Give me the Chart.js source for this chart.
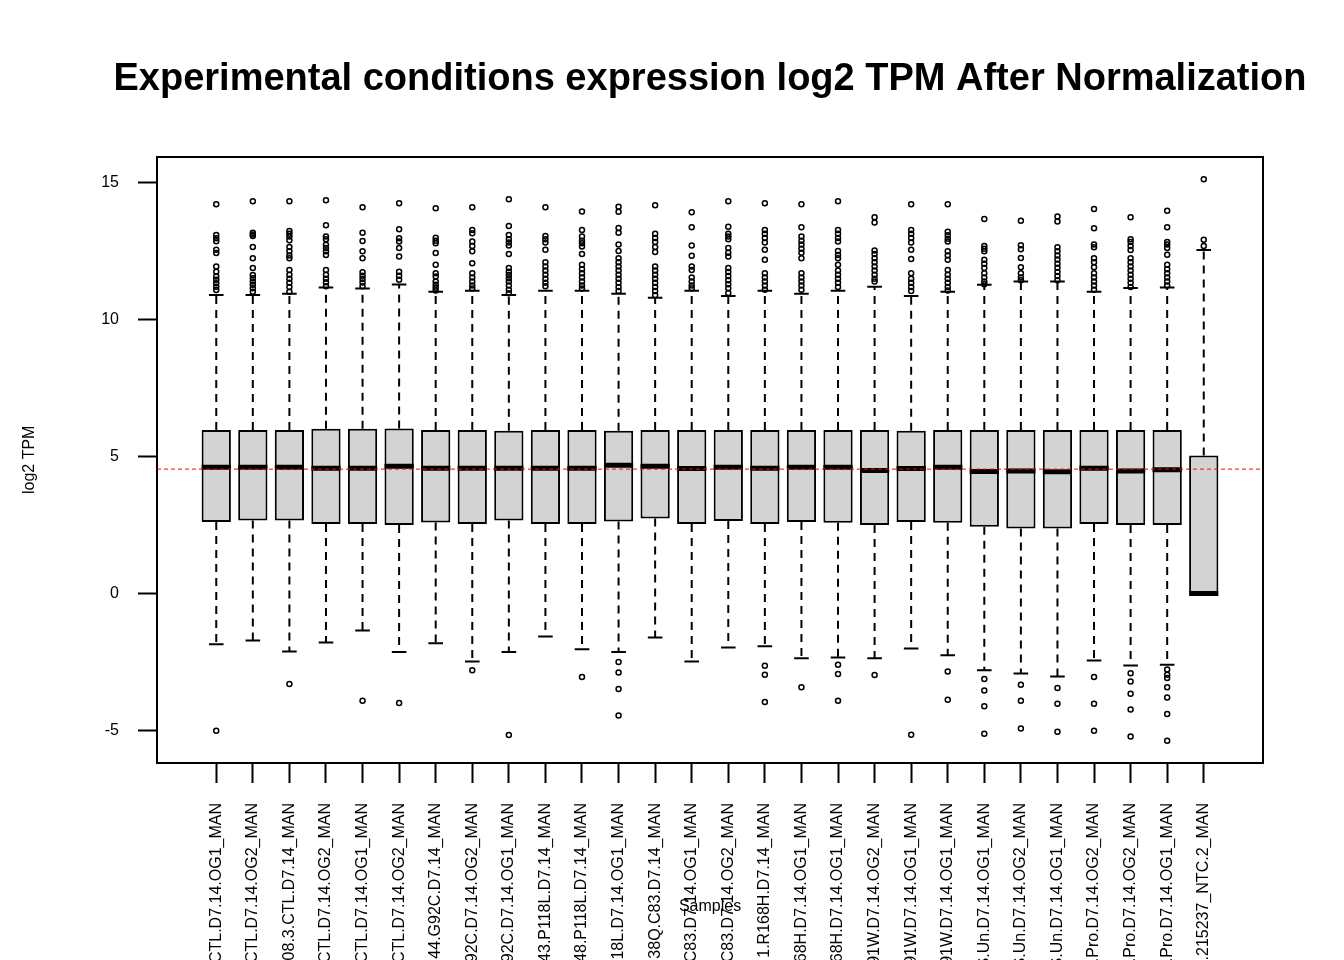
<!DOCTYPE html>
<html>
<head>
<meta charset="utf-8">
<script src="https://cdn.jsdelivr.net/npm/chart.js@4"></script>
<style>
html,body{margin:0;padding:0;background:#fff;overflow:hidden}
#wrap{width:1344px;height:960px;position:relative}
</style>
</head>
<body>
<div id="wrap"><canvas id="c"></canvas></div>
<script>
// ---------------- data ----------------
const sampleLabels = [
  "CTL.D7.14.OG1_MAN", "CTL.D7.14.OG2_MAN", "08.3.CTL.D7.14_MAN", "CTL.D7.14.OG2_MAN",
  "CTL.D7.14.OG1_MAN", "CTL.D7.14.OG2_MAN", "44.G92C.D7.14_MAN", "92C.D7.14.OG2_MAN",
  "92C.D7.14.OG1_MAN", "43.P118L.D7.14_MAN", "48.P118L.D7.14_MAN", "18L.D7.14.OG1_MAN",
  "38Q.C83.D7.14_MAN", "C83.D7.14.OG1_MAN", "C83.D7.14.OG2_MAN", "1.R168H.D7.14_MAN",
  "68H.D7.14.OG1_MAN", "68H.D7.14.OG1_MAN", "91W.D7.14.OG2_MAN", "91W.D7.14.OG1_MAN",
  "91W.D7.14.OG1_MAN", "S.Un.D7.14.OG1_MAN", "S.Un.D7.14.OG2_MAN", "S.Un.D7.14.OG1_MAN",
  ".Pro.D7.14.OG2_MAN", ".Pro.D7.14.OG2_MAN", ".Pro.D7.14.OG1_MAN", ".215237_NTC.2_MAN"
];

const q1 = [2.61, 2.66, 2.66, 2.54, 2.54, 2.50, 2.59, 2.54, 2.66, 2.54, 2.54, 2.63, 2.74, 2.54,
            2.65, 2.54, 2.61, 2.58, 2.50, 2.61, 2.58, 2.44, 2.37, 2.37, 2.54, 2.50, 2.50, 0.00];
const medians = [4.61, 4.61, 4.61, 4.57, 4.57, 4.64, 4.57, 4.57, 4.57, 4.57, 4.57, 4.68, 4.64, 4.56,
                 4.61, 4.57, 4.61, 4.61, 4.49, 4.56, 4.61, 4.45, 4.47, 4.44, 4.57, 4.47, 4.52, 0.00];
const q3 = [5.97, 5.97, 5.97, 6.01, 6.01, 6.02, 5.97, 5.97, 5.94, 5.97, 5.97, 5.94, 5.97, 5.97,
            5.97, 5.97, 5.97, 5.97, 5.97, 5.94, 5.97, 5.97, 5.97, 5.97, 5.97, 5.97, 5.97, 5.04];
const whiskerLow = [-1.85, -1.72, -2.12, -1.79, -1.35, -2.14, -1.82, -2.48, -2.14, -1.57, -2.04, -2.14, -1.61, -2.48,
                    -1.97, -1.93, -2.37, -2.34, -2.37, -2.01, -2.26, -2.80, -2.92, -3.03, -2.45, -2.63, -2.60, 0.00];
const whiskerHigh = [10.90, 10.90, 10.94, 11.17, 11.13, 11.28, 11.02, 11.05, 10.90, 11.05, 11.05, 10.94, 10.80, 11.05,
                     10.86, 11.05, 10.94, 11.05, 11.20, 10.86, 11.02, 11.27, 11.39, 11.39, 11.02, 11.15, 11.17, 12.54];

const outliersHigh = [
  [14.21, 13.09, 12.97, 12.86, 12.55, 12.43, 11.94, 11.75, 11.57, 11.45, 11.33, 11.20, 11.08],
  [14.32, 13.17, 13.11, 13.05, 12.65, 12.24, 11.88, 11.63, 11.51, 11.39, 11.27, 11.14, 11.02],
  [14.32, 13.23, 13.13, 13.03, 12.90, 12.65, 12.49, 12.34, 12.24, 11.81, 11.64, 11.49, 11.34, 11.19, 11.02],
  [14.36, 13.44, 13.03, 12.93, 12.73, 12.61, 12.49, 12.36, 11.81, 11.64, 11.49, 11.36, 11.22],
  [14.10, 13.17, 12.87, 12.49, 12.24, 11.73, 11.60, 11.48, 11.35, 11.22],
  [14.25, 13.30, 12.97, 12.85, 12.61, 12.30, 11.75, 11.60, 11.45],
  [14.06, 12.99, 12.88, 12.79, 12.43, 12.00, 11.69, 11.57, 11.39, 11.27, 11.16, 11.06],
  [14.10, 13.27, 13.15, 12.85, 12.69, 12.49, 12.06, 11.69, 11.54, 11.39, 11.24, 11.13],
  [14.39, 13.42, 13.09, 12.93, 12.81, 12.70, 12.39, 11.88, 11.75, 11.63, 11.51, 11.39, 11.24, 11.09, 10.96],
  [14.10, 13.05, 12.93, 12.81, 12.55, 12.09, 11.94, 11.79, 11.64, 11.49, 11.34, 11.22],
  [13.95, 13.27, 13.03, 12.88, 12.79, 12.67, 12.39, 12.00, 11.84, 11.69, 11.54, 11.39, 11.24, 11.13],
  [14.12, 13.94, 13.34, 13.17, 12.74, 12.50, 12.24, 12.09, 11.94, 11.79, 11.64, 11.49, 11.34, 11.19, 11.04],
  [14.17, 13.13, 12.98, 12.83, 12.65, 12.47, 11.94, 11.79, 11.64, 11.49, 11.34, 11.19, 11.04, 10.89],
  [13.92, 13.37, 12.70, 12.33, 11.94, 11.81, 11.54, 11.39, 11.24, 11.14],
  [14.32, 13.39, 13.13, 13.03, 12.93, 12.61, 12.44, 12.30, 11.88, 11.74, 11.59, 11.44, 11.29, 11.14, 10.97],
  [14.25, 13.27, 13.13, 12.98, 12.81, 12.55, 12.18, 11.69, 11.54, 11.39, 11.24, 11.09],
  [14.21, 13.37, 13.03, 12.88, 12.74, 12.59, 12.44, 12.24, 11.69, 11.54, 11.39, 11.24, 11.09],
  [14.32, 13.27, 13.13, 12.98, 12.85, 12.50, 12.36, 12.24, 12.00, 11.79, 11.64, 11.49, 11.34, 11.19],
  [13.74, 13.54, 12.52, 12.39, 12.24, 12.09, 11.94, 11.79, 11.64, 11.49, 11.39],
  [14.21, 13.27, 13.13, 12.98, 12.81, 12.55, 12.21, 11.69, 11.49, 11.34, 11.19, 11.04],
  [14.21, 13.21, 13.08, 12.95, 12.85, 12.49, 12.34, 12.18, 11.81, 11.64, 11.49, 11.34, 11.19, 11.06],
  [13.67, 12.69, 12.59, 12.49, 12.18, 12.04, 11.88, 11.69, 11.54, 11.39, 11.29],
  [13.61, 12.71, 12.57, 12.25, 11.91, 11.69, 11.54, 11.44],
  [13.76, 13.58, 12.64, 12.49, 12.34, 12.19, 12.04, 11.89, 11.74, 11.59, 11.44],
  [14.04, 13.33, 12.74, 12.64, 12.24, 12.09, 11.91, 11.69, 11.54, 11.39, 11.24, 11.09],
  [13.74, 12.93, 12.83, 12.69, 12.54, 12.24, 12.09, 11.94, 11.79, 11.64, 11.49, 11.34, 11.19],
  [13.97, 13.37, 12.83, 12.74, 12.61, 12.37, 12.00, 11.84, 11.69, 11.54, 11.39, 11.24],
  [15.12, 12.91, 12.69]
];

const outliersLow = [
  [-5.01], [], [-3.31], [], [-3.92], [-4.00], [], [-2.80], [-5.17], [], [-3.05],
  [-2.50, -2.89, -3.49, -4.46], [], [], [], [-2.64, -2.97, -3.96], [-3.42],
  [-2.60, -2.94, -3.92], [-2.98], [-5.16], [-2.85, -3.88],
  [-3.12, -3.54, -4.12, -5.12], [-3.33, -3.92, -4.93], [-3.45, -4.03, -5.05],
  [-3.05, -4.03, -5.01], [-2.91, -3.21, -3.66, -4.24, -5.22],
  [-2.78, -2.97, -3.09, -3.42, -3.80, -4.40, -5.38], []
];

const yTicks = [-5, 0, 5, 10, 15];
const refLineValue = 4.54;
const xRange = [-0.62, 29.62];
const yRange = [-6.19, 15.95];
const titleText = "Experimental conditions expression log2 TPM After Normalization";
const xTitle = "Samples";
const yTitle = "log2 TPM";

// ---------------- build datasets ----------------
const xs = sampleLabels.map((_, i) => i + 1);

const boxData = xs.map((x, i) => ({x: x, y: [q1[i], q3[i]]}));
const medianData = xs.map((x, i) => ({x: x, y: medians[i]}));
const whiskerData = [];
xs.forEach((x, i) => {
  whiskerData.push({x: x, y: q3[i]}, {x: x, y: whiskerHigh[i]}, {x: x, y: null});
  whiskerData.push({x: x, y: q1[i]}, {x: x, y: whiskerLow[i]}, {x: x, y: null});
});
const capData = [];
xs.forEach((x, i) => {
  capData.push({x: x, y: whiskerHigh[i]}, {x: x, y: whiskerLow[i]});
});
const outlierData = [];
xs.forEach((x, i) => {
  outliersHigh[i].forEach(v => outlierData.push({x: x, y: v}));
  outliersLow[i].forEach(v => outlierData.push({x: x, y: v}));
});
const refData = [{x: xRange[0], y: refLineValue}, {x: xRange[1], y: refLineValue}];

Chart.defaults.font.family = "'Liberation Sans', Arial, Helvetica, sans-serif";
Chart.defaults.color = '#000';

new Chart(document.getElementById('c'), {
  type: 'bar',
  data: {
    datasets: [
      {
        type: 'line', data: whiskerData, order: 6,
        borderColor: '#000', borderWidth: 2, borderDash: [8, 6],
        pointRadius: 0, spanGaps: false, fill: false, tension: 0
      },
      {
        type: 'scatter', data: capData, order: 5,
        pointStyle: 'line', pointRadius: 7.3, pointBorderWidth: 2,
        pointBorderColor: '#000', pointBackgroundColor: '#000'
      },
      {
        type: 'bar', data: boxData, order: 4, grouped: false,
        backgroundColor: '#d3d3d3', borderColor: '#000', borderWidth: 2,
        borderSkipped: false, barPercentage: 0.8, categoryPercentage: 1
      },
      {
        type: 'scatter', data: medianData, order: 3,
        pointStyle: 'line', pointRadius: 14.6, pointBorderWidth: 5,
        pointBorderColor: '#000', pointBackgroundColor: '#000'
      },
      {
        type: 'scatter', data: outlierData, order: 2,
        pointStyle: 'circle', pointRadius: 2.5, pointBorderWidth: 1.5,
        pointBorderColor: '#000', pointBackgroundColor: 'rgba(0,0,0,0)'
      },
      {
        type: 'line', data: refData, order: 1,
        borderColor: '#ff0000', borderWidth: 1, borderDash: [4, 3],
        pointRadius: 0, fill: false
      }
    ]
  },
  options: {
    responsive: true,
    maintainAspectRatio: false,
    animation: false,
    events: [],
    layout: {padding: {left: 76, right: 0, top: 0, bottom: 0}},
    plugins: {
      legend: {display: false},
      tooltip: {enabled: false},
      title: {
        display: true, text: titleText, fullSize: true, color: '#000',
        font: {size: 38, weight: 'bold'},
        padding: {top: 57, bottom: 54}
      }
    },
    scales: {
      x: {
        type: 'linear', position: 'bottom', offset: false,
        min: xRange[0], max: xRange[1],
        afterBuildTicks: (s) => { s.ticks = xs.map(v => ({value: v})); },
        afterFit: (s) => { s.height = 197; },
        ticks: {
          autoSkip: false, maxRotation: 90, minRotation: 90,
          padding: 20, color: '#000', font: {size: 16},
          callback: (v) => sampleLabels[v - 1]
        },
        grid: {display: true, drawOnChartArea: false, drawTicks: true, offset: false,
               tickLength: 20, tickWidth: 2, tickColor: '#000'},
        border: {display: true, color: '#000', width: 2},
        title: {display: true, text: xTitle, color: '#000', font: {size: 16},
                padding: {top: 0, bottom: 44}}
      },
      y: {
        type: 'linear', position: 'left',
        min: yRange[0], max: yRange[1],
        afterBuildTicks: (s) => { s.ticks = yTicks.map(v => ({value: v})); },
        afterFit: (s) => { s.width = 81; },
        ticks: {padding: 19, color: '#000', font: {size: 16}},
        grid: {display: true, drawOnChartArea: false, drawTicks: true,
               tickLength: 19, tickWidth: 2, tickColor: '#000'},
        border: {display: true, color: '#000', width: 2},
        title: {display: true, text: yTitle, color: '#000', font: {size: 16},
                padding: {top: -56, bottom: 0}}
      },
      x2: {
        type: 'linear', position: 'top', display: true,
        min: xRange[0], max: xRange[1],
        afterFit: (s) => { s.height = 0; },
        ticks: {display: false},
        grid: {display: true, drawOnChartArea: false, drawTicks: false},
        border: {display: true, color: '#000', width: 2}
      },
      y2: {
        type: 'linear', position: 'right', display: true,
        min: yRange[0], max: yRange[1],
        afterFit: (s) => { s.width = 81; },
        ticks: {display: false},
        grid: {display: true, drawOnChartArea: false, drawTicks: false},
        border: {display: true, color: '#000', width: 2}
      }
    }
  }
});
</script>
</body>
</html>
